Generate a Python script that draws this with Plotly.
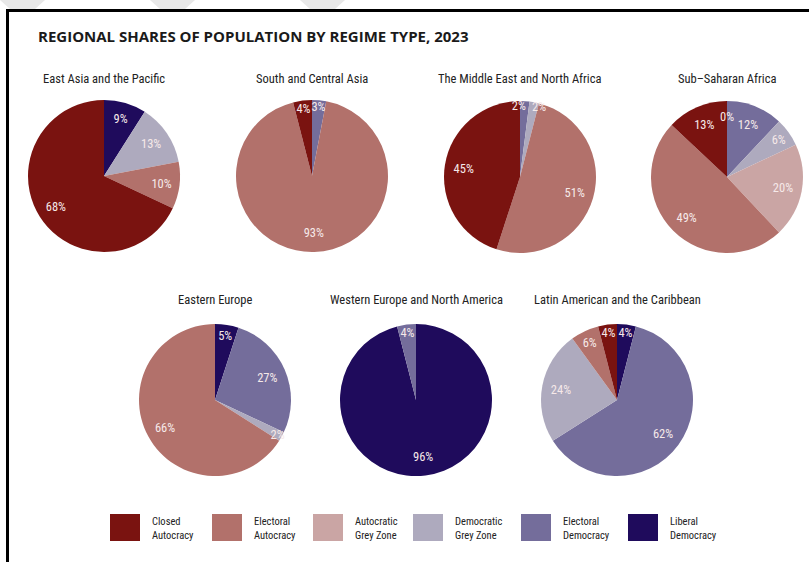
import math
import plotly.graph_objects as go

# ---------------- data ----------------
categories = ["Closed Autocracy", "Electoral Autocracy", "Autocratic Grey Zone",
              "Democratic Grey Zone", "Electoral Democracy", "Liberal Democracy"]
legend_labels = ["Closed<br>Autocracy", "Electoral<br>Autocracy", "Autocratic<br>Grey Zone",
                 "Democratic<br>Grey Zone", "Electoral<br>Democracy", "Liberal<br>Democracy"]
colors = ["#7a1310", "#b2716b", "#caa5a4", "#aeaabe", "#746d9b", "#1f0b5c"]

regions = ["East Asia and the Pacific", "South and Central Asia",
           "The Middle East and North Africa", "Sub\u2013Saharan Africa",
           "Eastern Europe", "Western Europe and North America",
           "Latin American and the Caribbean"]

# shares (%) in category order; None = category absent (no label)
east_asia = [68, 10, None, 13, None, 9]
south_central_asia = [4, 93, None, None, 3, None]
mena = [45, 51, None, 2, 2, None]
sub_saharan = [13, 49, 20, 6, 12, 0]
eastern_europe = [None, 66, None, 2, 27, 5]
western_europe_na = [None, None, None, None, 4, 96]
latin_america = [4, 6, None, 24, 62, 4]

region_values = [east_asia, south_central_asia, mena, sub_saharan,
                 eastern_europe, western_europe_na, latin_america]

# ---------------- layout constants ----------------
W, H = 809, 562
R = 76
centers = [(104, 176), (312, 176), (520, 177), (727, 177),
           (215, 400), (416, 400), (617, 400)]
title_y = [79, 79, 79, 79, 300, 300, 300]
FONT_NARROW = "Roboto Condensed, Liberation Sans Narrow, sans-serif"
LABEL_COLOR = "#f6e9e9"
LABEL_SIZE = 12.5
NB = "\u00a0"


def px(x):
    return x / W


def py(y):
    return 1 - y / H


fig = go.Figure()
annotations = []
shapes = []

for name, vals, (cx, cy), ty in zip(regions, region_values, centers, title_y):
    # clockwise from 12 o'clock: Liberal Democracy first
    order = list(range(len(categories)))[::-1]
    labels = [categories[i] for i in order]
    ovals = [vals[i] for i in order]
    values = [0 if v is None else v for v in ovals]
    shown = [k for k, v in enumerate(ovals) if v]  # labelled, non-zero slices
    texts = []
    for k, v in enumerate(ovals):
        if not v:
            texts.append("")
            continue
        t = f"{v}%"
        pos = shown.index(k)
        # two neighbouring tiny slices: push their labels apart
        if v <= 2 and pos + 1 < len(shown) and ovals[shown[pos + 1]] <= 2:
            t = t + NB * 4
        elif v <= 2 and pos > 0 and ovals[shown[pos - 1]] <= 2:
            t = NB * 4 + t
        texts.append(t)
    cols = [colors[i] for i in order]
    dom = dict(x=[px(cx - R), px(cx + R)], y=[py(cy + R), py(cy - R)])
    # coloured pie
    fig.add_trace(go.Pie(
        labels=labels, values=values, textinfo="none",
        marker=dict(colors=cols, line=dict(width=0)),
        sort=False, direction="clockwise", rotation=0,
        showlegend=False, hoverinfo="label+percent", domain=dom,
    ))
    # transparent ring carrying the labels (places them in the outer part)
    fig.add_trace(go.Pie(
        labels=labels, values=values, text=texts, hole=0.5,
        textinfo="text", textposition="inside",
        insidetextorientation="horizontal",
        textfont=dict(family=FONT_NARROW, size=LABEL_SIZE, color=LABEL_COLOR),
        marker=dict(colors=["rgba(0,0,0,0)"] * len(labels), line=dict(width=0)),
        sort=False, direction="clockwise", rotation=0,
        showlegend=False, hoverinfo="skip", domain=dom,
    ))
    # labels of slices whose share rounds to 0% (no wedge to hold them)
    cum = 0
    for v in ovals:
        if v == 0 and v is not None:
            ang = math.radians(cum / 100 * 360)
            annotations.append(dict(
                text="0%", x=px(cx + 0.8 * R * math.sin(ang)),
                y=py(cy - 0.8 * R * math.cos(ang)), xref="paper", yref="paper",
                showarrow=False, xanchor="center", yanchor="middle",
                font=dict(family=FONT_NARROW, size=LABEL_SIZE, color=LABEL_COLOR)))
        cum += 0 if v is None else v
    annotations.append(dict(
        text=name, x=px(cx), y=py(ty), xref="paper", yref="paper",
        showarrow=False, xanchor="center", yanchor="middle",
        font=dict(family=FONT_NARROW, size=12.5, color="#222222"),
    ))

# custom legend
leg_x = [110, 212, 313, 413, 521, 628]
for lx, lab, col in zip(leg_x, legend_labels, colors):
    shapes.append(dict(type="rect", xref="paper", yref="paper",
                       x0=px(lx), x1=px(lx + 30), y0=py(541), y1=py(514),
                       fillcolor=col, line=dict(width=0)))
    annotations.append(dict(
        text=lab, x=px(lx + 40), y=py(528), xref="paper", yref="paper",
        showarrow=False, xanchor="left", yanchor="middle", align="left",
        font=dict(family=FONT_NARROW, size=10.5, color="#222222"),
    ))

# main title
annotations.append(dict(
    text="<b>REGIONAL SHARES OF POPULATION BY REGIME TYPE, 2023</b>",
    x=px(36), y=py(36), xref="paper", yref="paper", showarrow=False,
    xanchor="left", yanchor="middle",
    font=dict(family="Open Sans, sans-serif", size=15, color="#1a1a1a"),
))

# faint watermark stripes outside the frame
for x0 in [0, 150, 300]:
    shapes.append(dict(type="path", xref="paper", yref="paper",
                       path=f"M {px(x0)},{py(0)} L {px(x0 + 45)},{py(0)} L {px(x0 + 35)},{py(9)} L {px(x0 + 10)},{py(9)} Z",
                       fillcolor="#e8e8e8", line=dict(width=0), layer="below"))

# frame
shapes.append(dict(type="rect", xref="paper", yref="paper",
                   x0=px(7.5), x1=1.05, y0=-0.05, y1=py(10.5),
                   line=dict(color="black", width=3), fillcolor="rgba(0,0,0,0)"))

fig.update_layout(
    width=W, height=H, margin=dict(l=0, r=0, t=0, b=0),
    paper_bgcolor="white", plot_bgcolor="white",
    annotations=annotations, shapes=shapes,
    uniformtext=dict(minsize=LABEL_SIZE, mode="show"),
)

fig.write_html("out.html", config={"displayModeBar": False},
               post_script="document.body.style.margin='0';")
